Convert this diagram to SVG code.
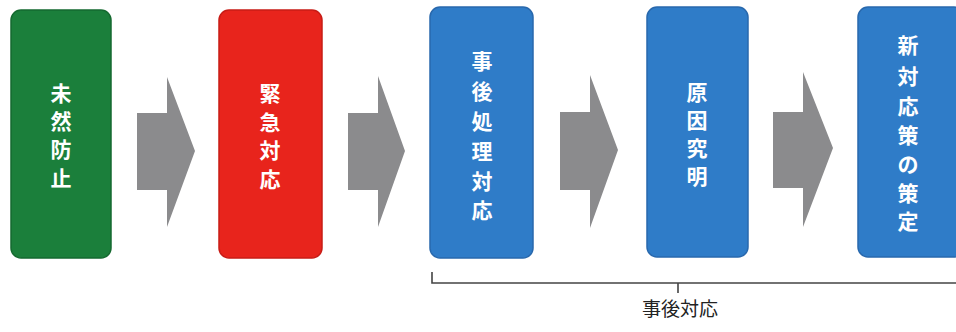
<svg xmlns="http://www.w3.org/2000/svg" width="956" height="332" viewBox="0 0 956 332">
<style>
.box{stroke-width:1.5}
.g{fill:#1b7f3b;stroke:#156a30}
.r{fill:#e8241c;stroke:#c81c16}
.b{fill:#2f7cc8;stroke:#2868ad}
.t{font-family:"Noto Sans CJK JP","Noto Sans CJK SC",sans-serif;font-weight:bold;font-size:21px;fill:#ffffff;text-anchor:middle;dominant-baseline:central}
.arrow{fill:#8b8b8d}
.br{fill:none;stroke:#444;stroke-width:1.6}
.lbl{font-family:"Noto Sans CJK JP","Noto Sans CJK SC",sans-serif;font-size:19px;fill:#222;text-anchor:middle}
</style>
<rect width="956" height="332" fill="#ffffff"/>
<g id="n1">
<rect class="box g" x="11" y="10" width="100" height="248" rx="10"/>
<text class="t" x="61" y="92">未</text>
<text class="t" x="61" y="120">然</text>
<text class="t" x="61" y="148">防</text>
<text class="t" x="61" y="177">止</text>
</g>
<g id="n2">
<rect class="box r" x="219" y="10" width="103" height="248" rx="10"/>
<text class="t" x="270" y="92">緊</text>
<text class="t" x="270" y="121">急</text>
<text class="t" x="270" y="149">対</text>
<text class="t" x="270" y="178">応</text>
</g>
<g id="n3">
<rect class="box b" x="430" y="7" width="103" height="251" rx="10"/>
<text class="t" x="482" y="60">事</text>
<text class="t" x="482" y="90">後</text>
<text class="t" x="482" y="120">処</text>
<text class="t" x="482" y="150">理</text>
<text class="t" x="482" y="180">対</text>
<text class="t" x="482" y="209">応</text>
</g>
<g id="n4">
<rect class="box b" x="647" y="7" width="101" height="250" rx="10"/>
<text class="t" x="697" y="91">原</text>
<text class="t" x="697" y="119">因</text>
<text class="t" x="697" y="147">究</text>
<text class="t" x="697" y="175">明</text>
</g>
<g id="n5">
<rect class="box b" x="858" y="7" width="106" height="250" rx="10"/>
<text class="t" x="908" y="44">新</text>
<text class="t" x="908" y="75">対</text>
<text class="t" x="908" y="105">応</text>
<text class="t" x="908" y="134">策</text>
<text class="t" x="908" y="163">の</text>
<text class="t" x="908" y="192">策</text>
<text class="t" x="908" y="220">定</text>
</g>
<g id="connectors">
<polygon class="arrow" points="137,113 167,113 167,77 195,151 167,227 167,190 137,190"/>
<polygon class="arrow" points="348,113 378,113 378,76 405,151 378,227 378,190 348,190"/>
<polygon class="arrow" points="560,112 590,112 590,75 618,150 590,228 590,190 560,190"/>
<polygon class="arrow" points="773,112 803,112 803,72 833,148 803,227 803,188 773,188"/>
</g>
<g id="bracket">
<path class="br" d="M432,272 L432,283 L956,283 M678,283 L678,293"/>
<text class="lbl" x="680" y="316">事後対応</text>
</g>
</svg>
